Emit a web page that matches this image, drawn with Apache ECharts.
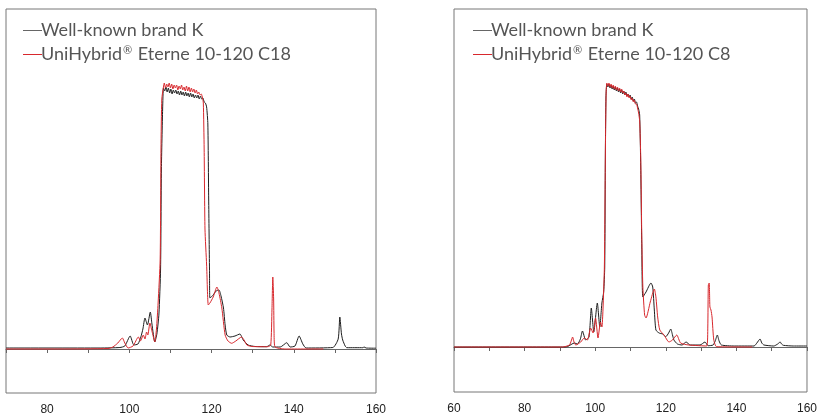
<!DOCTYPE html>
<html>
<head>
<meta charset="utf-8">
<script src="https://cdn.jsdelivr.net/npm/echarts@6/dist/echarts.min.js"></script>
<style>html,body{margin:0;padding:0;background:#fff}#c{width:820px;height:416px}</style>
</head>
<body>
<div id="c"></div>
<script>
// Series names
const nameBrandK = 'Well-known brand K';
const nameC18 = 'UniHybrid® Eterne 10-120 C18';
const nameC8 = 'UniHybrid® Eterne 10-120 C8';

// X-axis tick labels (shown)
const ticksLeft = [80, 100, 120, 140, 160];
const ticksRight = [60, 80, 100, 120, 140, 160];

// Left panel: Well-known brand K [time, signal]
const brandK_left = [
  [70,1],[92.9,1],[97.7,1.5],[98.9,3],[100.2,13],[101.1,4],[102.1,5],[102.8,12],[103.3,20],[103.8,31],
  [104.4,24],[105.1,37],[105.5,25],[106.2,7],[106.7,15],[107.2,35],[107.6,80],[107.8,180],[108.1,240],
  [108.3,261],[108.6,258],[108.9,262],[109.2,257],[109.5,261],[109.8,256],[110.1,260],[110.4,255],[110.7,259],
  [111.0,256],[111.3,259],[111.6,255],[111.9,258],[112.2,254],[112.5,258],[112.8,254],[113.1,257],[113.4,253],
  [113.7,257],[114.0,253],[114.3,256],[114.6,252],[114.9,256],[115.2,252],[115.5,255],[115.8,251],[116.1,254],
  [116.4,251],[116.7,254],[117.0,250],[117.3,253],[117.6,250],[117.9,251],[118.2,247],[118.5,246],[118.8,242],
  [119.1,225],[119.3,150],[119.5,80],[119.6,51],[120.4,54],[121.1,58],[121.8,59],[122.3,53],[122.9,41],
  [123.3,24],[123.7,14],[124.5,12],[125.7,13],[126.9,15],[127.7,9],[128.9,4],[130.6,2.5],[133.4,2.3],
  [134.2,4],[134.9,2],[136.7,2],[138.3,6.3],[139.1,2],[140.3,3],[141.3,13],[142.2,5],[143,1],[149.5,1.5],
  [150.8,10],[151.2,32],[151.6,15],[151.9,9],[152.5,3],[152.9,1.3],[156.8,1.3],[157.1,2],[157.6,1],[160,0.8]
];

// Left panel: UniHybrid C18
const c18_left = [
  [70,0],[83.1,0],[94.8,0.5],[96.0,2],[97.2,6],[98.3,11],[98.9,6],[99.7,1],[100.9,3],[102.2,12],[102.7,8],
  [103.4,14],[103.8,10],[104.2,17],[104.5,14],[105.0,26],[105.5,18],[106.2,7],[106.6,20],[107.0,46],[107.5,90],
  [107.7,200],[107.9,250],[108.3,262],[108.5,266],[108.8,261],[109.1,265],[109.4,262],[109.7,266],[110.0,261],
  [110.3,265],[110.6,260],[110.9,264],[111.2,261],[111.5,264],[111.8,259],[112.1,263],[112.4,260],[112.7,264],
  [113.0,259],[113.3,262],[113.6,258],[113.9,263],[114.2,258],[114.5,262],[114.8,257],[115.1,261],[115.4,257],
  [115.7,260],[116.0,256],[116.3,259],[116.6,255],[116.9,257],[117.2,254],[117.5,255],[117.8,251],[118.0,246],
  [118.2,200],[118.4,120],[118.8,84],[119.2,44],[119.6,46],[120.4,52],[121.3,62],[121.8,56],[122.5,41],
  [123.3,14],[124.0,8],[124.9,5.7],[125.9,8],[127.3,12],[127.9,9],[128.6,4],[129.8,2.5],[133.7,2.3],[134.4,4],
  [134.7,40],[134.9,72],[135.1,50],[135.2,17],[135.4,2.3],[137.9,0],[147.2,0]
];

// Right panel: Well-known brand K
const brandK_right = [
  [60,0],[90.8,0],[92.2,0.5],[94.1,4],[95.0,3],[95.8,8],[96.4,16],[97.3,7],[98.25,10],[98.9,39],[99.6,15],
  [100.6,44],[101.3,20],[101.9,44],[102.4,55],[102.7,80],[102.9,200],[103.05,250],
  [103.3,263],[103.6,260],[103.9,263],[104.2,259],[104.5,262],[104.8,258],[105.1,261],[105.4,257],[105.7,260],
  [106.0,256],[106.3,259],[106.6,255],[106.9,258],[107.2,254],[107.5,257],[107.8,253],[108.1,256],[108.4,252],
  [108.7,255],[109.0,251],[109.3,253],[109.6,250],[109.9,252],[110.2,248],[110.5,250],[110.8,246],[111.1,248],
  [111.4,244],[111.7,245],[112.0,241],[112.3,238],[112.6,232],[112.9,180],[113.2,100],[113.5,50],[114.4,55],
  [115.8,64],[116.3,60],[116.75,37],[117.2,17],[118.1,14],[119.1,13],[120.0,10.3],[120.8,14],[121.4,18],
  [121.9,12],[122.3,7],[123.3,3],[124.6,2],[125.75,5],[126.9,2],[129.7,2],[131.1,5],[132.0,1.3],[133.4,2],
  [134.0,6],[134.6,12],[135.1,6],[135.75,2],[139.4,1],[145,1],[145.8,4],[146.7,8],[147.2,4],[147.8,2],
  [150.6,1],[151.7,3],[152.4,5],[152.8,3],[153.3,1.7],[156.1,1],[160,1]
];

// Right panel: UniHybrid C8
const c8_right = [
  [60,0],[90.8,0],[92.7,2],[93.2,6],[93.6,10],[94.0,5],[94.5,2],[95.9,5],[96.9,9],[97.8,7],[98.7,19],[99.4,14],
  [100.1,29],[100.8,9],[101.5,25],[101.9,20],[102.2,37],[102.6,80],[102.9,200],[103.1,255],
  [103.3,264],[103.6,261],[103.9,264],[104.2,260],[104.5,263],[104.8,259],[105.1,262],[105.4,258],[105.7,261],
  [106.0,257],[106.3,260],[106.6,256],[106.9,259],[107.2,255],[107.5,258],[107.8,254],[108.1,256],[108.4,252],
  [108.7,254],[109.0,250],[109.3,253],[109.6,249],[109.9,251],[110.2,247],[110.5,249],[110.8,245],[111.1,247],
  [111.4,243],[111.7,243],[112.0,239],[112.3,234],[112.6,226],[112.9,190],[113.2,110],[113.5,60],[114.0,32],
  [114.4,29],[115.6,45],[116.75,58],[117.2,50],[117.7,30],[118.3,17],[119.5,12],[120.9,5],[121.9,7],[123.1,12],
  [124.2,4],[126.5,2],[131.6,1],[131.9,20],[132.05,62],[132.3,64],[132.5,40],[132.8,37],[133.1,30],[133.6,7],[134.4,0.3],
  [144.5,0]
];

const black = '#1e1e1e';
const red = '#d8282d';
const legendText = {
  color: '#555', fontSize: 18, fontFamily: 'Lato, "Noto Sans", sans-serif', lineHeight: 19,
  padding: [0, 0, 0, -6],
  rich: { sup: { fontSize: 11, color: '#555', fontFamily: 'Lato, "Noto Sans", sans-serif', verticalAlign: 'top', lineHeight: 19, padding: [0, 1, 6, 1] } }
};
const legendFormatter = n => n.replace('®', '{sup|®}');
const legendItem = (name, color) => ({
  name: name, icon: 'rect',
  itemStyle: { color: color, borderColor: color, borderWidth: 0, opacity: 1 },
  lineStyle: { color: color, width: 0, opacity: 1 }
});

function xAxisCfg(gi, min, ticks) {
  return {
    type: 'value', gridIndex: gi, min: min, max: 160, interval: 10,
    axisLine: { show: true, lineStyle: { color: '#666', width: 1 } },
    axisTick: { show: true, length: 4, inside: false, lineStyle: { color: '#666' } },
    splitLine: { show: false },
    axisLabel: {
      margin: 11, color: '#222', fontSize: 12, fontFamily: '"Liberation Sans", Arial, sans-serif',
      formatter: v => ticks.indexOf(v) >= 0 ? String(v) : ''
    }
  };
}
function yAxisCfg(gi, min, max) {
  return { type: 'value', gridIndex: gi, min: min, max: max, show: false, splitLine: { show: false } };
}
function lineSeries(name, data, color, xi, z) {
  return {
    type: 'line', name: name, data: data, xAxisIndex: xi, yAxisIndex: xi,
    showSymbol: false, symbol: 'none', smooth: 0.2, z: z, animation: false,
    lineStyle: { color: color, width: 1 }, itemStyle: { color: color }
  };
}

const chart = echarts.init(document.getElementById('c'), null, { renderer: 'canvas' });
chart.setOption({
  animation: false,
  backgroundColor: '#fff',
  grid: [
    { left: 6, right: 444, top: 9, bottom: 23, show: true, borderColor: '#777', borderWidth: 1, backgroundColor: 'transparent' },
    { left: 454, right: 6, top: 9, bottom: 24, show: true, borderColor: '#777', borderWidth: 1, backgroundColor: 'transparent' }
  ],
  xAxis: [xAxisCfg(0, 70, ticksLeft), xAxisCfg(1, 60, ticksRight)],
  yAxis: [yAxisCfg(0, -44, 340), yAxisCfg(1, -45, 338)],
  legend: [
    { data: [legendItem(nameBrandK, '#666'), legendItem(nameC18, red)], left: 18, top: 16, orient: 'vertical',
      itemWidth: 19, itemHeight: 1, itemGap: 5, textStyle: legendText, formatter: legendFormatter, selectedMode: false },
    { data: [legendItem(nameBrandK, '#666'), legendItem(nameC8, red)], left: 468, top: 16, orient: 'vertical',
      itemWidth: 19, itemHeight: 1, itemGap: 5, textStyle: legendText, formatter: legendFormatter, selectedMode: false }
  ],
  series: [
    lineSeries(nameBrandK, brandK_left, black, 0, 2),
    lineSeries(nameC18, c18_left, red, 0, 3),
    lineSeries(nameBrandK, brandK_right, black, 1, 2),
    lineSeries(nameC8, c8_right, red, 1, 3)
  ]
});
</script>
</body>
</html>
